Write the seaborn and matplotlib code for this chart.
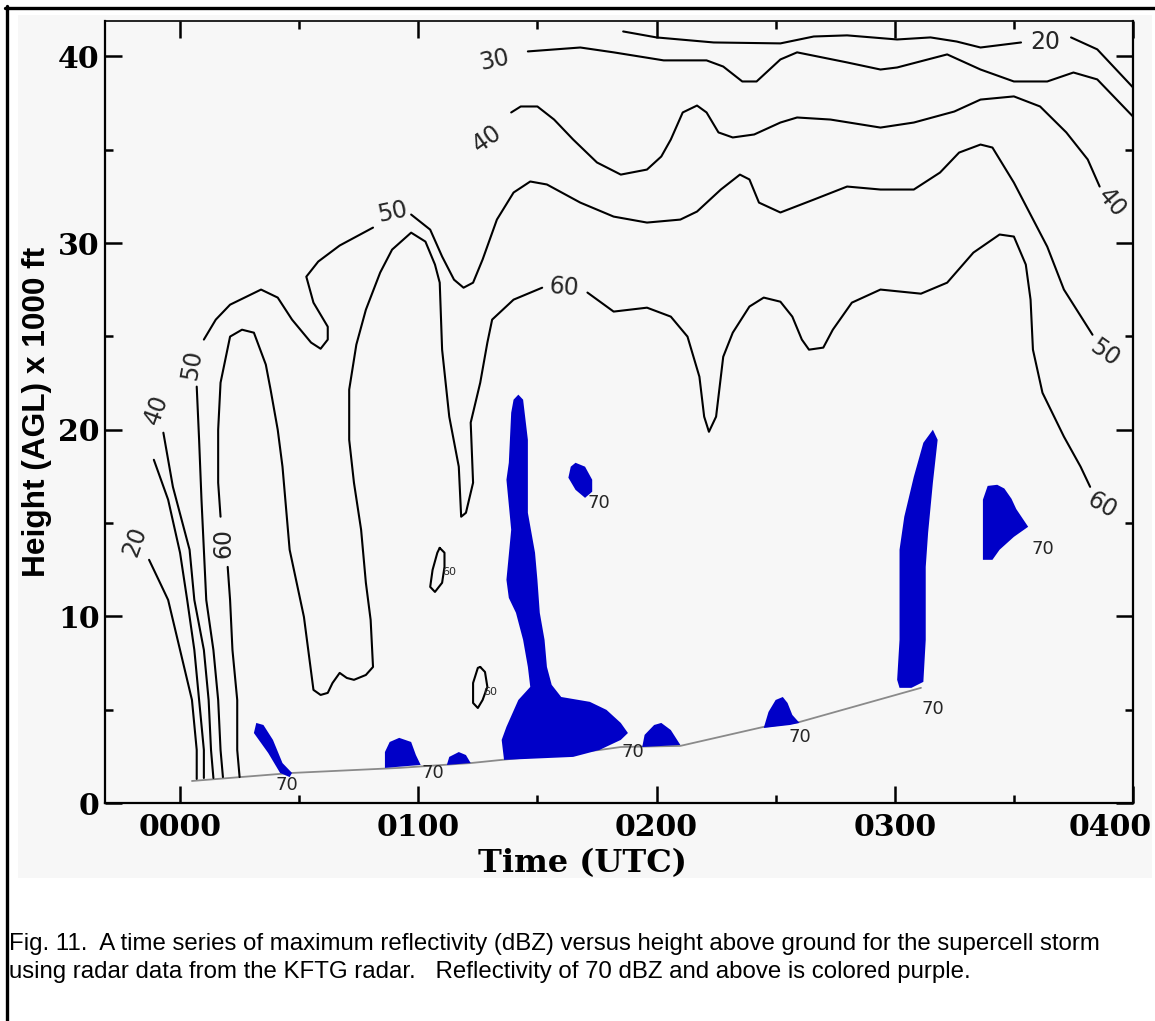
import matplotlib
matplotlib.use("Agg")
import matplotlib.pyplot as plt
import matplotlib.transforms as mtransforms
from matplotlib.lines import Line2D
from matplotlib.patches import Rectangle
from matplotlib.ticker import FixedLocator
import seaborn as sns

# values
# x = hours after 0000 UTC, y = height AGL in thousands of feet

time_ticks = [0, 1, 2, 3, 4]
time_labels = ["0000", "0100", "0200", "0300", "0400"]
time_minor = [0.5, 1.5, 2.5, 3.5]
height_ticks = [0, 10, 20, 30, 40]
height_minor = [5, 15, 25, 35]

ground_line = [(0.05, 1.18), (0.47, 1.61), (0.92, 1.88), (1.22, 2.14), (1.35, 2.31), (1.76, 2.84),
               (1.85, 3.00), (2.10, 3.06), (2.45, 4.08), (2.60, 4.34), (3.11, 6.17)]

# 20 dBZ
dbz20_top_a = [(1.86, 41.34), (2.00, 41.02), (2.24, 40.75), (2.52, 40.70), (2.66, 41.07), (2.80, 41.13),
               (3.01, 40.91), (3.15, 41.02), (3.26, 40.80), (3.36, 40.48), (3.53, 40.75)]
dbz20_top_b = [(3.74, 41.02), (3.85, 40.38), (4.00, 38.34)]
dbz20_left = [(-0.13, 13.03), (-0.08, 11.69), (-0.05, 10.88), (0.00, 8.20), (0.05, 5.52), (0.07, 2.84), (0.07, 1.29)]

# 30 dBZ
dbz30_top = [(1.46, 40.27), (1.68, 40.48), (1.82, 40.22), (2.03, 39.79), (2.21, 39.79), (2.28, 39.46),
             (2.36, 38.66), (2.42, 38.66), (2.52, 39.84), (2.59, 40.22), (2.80, 39.68), (2.94, 39.30),
             (3.01, 39.41), (3.22, 40.11), (3.36, 39.30), (3.50, 38.66), (3.64, 38.66), (3.75, 39.14),
             (3.85, 38.77), (4.00, 36.78)]
dbz30_left = [(-0.11, 18.39), (-0.05, 16.25), (0.00, 13.41), (0.03, 10.88), (0.06, 8.20), (0.08, 5.52),
              (0.10, 2.84), (0.10, 1.34)]

# 40 dBZ
dbz40_top = [(1.39, 37.00), (1.43, 37.32), (1.50, 37.32), (1.57, 36.62), (1.65, 35.55), (1.75, 34.32),
             (1.85, 33.67), (1.96, 33.94), (2.02, 34.64), (2.06, 35.55), (2.11, 37.00), (2.17, 37.37),
             (2.21, 37.00), (2.26, 35.93), (2.32, 35.66), (2.41, 35.82), (2.52, 36.46), (2.59, 36.73),
             (2.73, 36.62), (2.94, 36.19), (3.08, 36.46), (3.25, 37.05), (3.36, 37.69), (3.50, 37.86),
             (3.61, 37.32), (3.72, 35.93), (3.81, 34.48), (3.86, 33.03)]
dbz40_left = [(-0.07, 19.84), (-0.03, 16.94), (0.04, 13.57), (0.06, 10.88), (0.10, 8.20), (0.12, 5.52),
              (0.13, 2.84), (0.14, 1.34)]

# 50 dBZ
dbz50_left = [(0.18, 1.39), (0.17, 2.84), (0.16, 5.52), (0.14, 8.20), (0.11, 10.88), (0.09, 16.25),
              (0.08, 19.46), (0.07, 22.31)]
dbz50_a = [(0.10, 24.83), (0.15, 25.90), (0.21, 26.70), (0.34, 27.51), (0.41, 27.08), (0.47, 25.90),
           (0.55, 24.67), (0.59, 24.34), (0.62, 24.83), (0.62, 25.52), (0.56, 26.81), (0.53, 28.20),
           (0.58, 29.01), (0.67, 29.87), (0.81, 30.83)]
dbz50_b = [(0.97, 31.53), (1.05, 30.72), (1.10, 29.28), (1.15, 28.04), (1.19, 27.61), (1.23, 27.88),
           (1.27, 29.12), (1.33, 31.26), (1.40, 32.71), (1.47, 33.30), (1.54, 33.14), (1.68, 32.17),
           (1.82, 31.42), (1.96, 31.10), (2.10, 31.26), (2.17, 31.69), (2.27, 32.87), (2.35, 33.67),
           (2.39, 33.41), (2.43, 32.17), (2.52, 31.64), (2.66, 32.33), (2.80, 33.03), (2.94, 32.87),
           (3.08, 32.87), (3.19, 33.78), (3.27, 34.85), (3.36, 35.28), (3.41, 35.12), (3.50, 33.24),
           (3.64, 29.81), (3.71, 27.51), (3.83, 25.09)]

# 60 dBZ
dbz60_left = [(0.20, 12.65), (0.21, 10.88), (0.22, 8.20), (0.24, 5.52), (0.24, 2.84), (0.25, 1.39)]
dbz60_a = [(0.17, 15.34), (0.16, 17.16), (0.16, 20.00), (0.17, 22.52), (0.21, 24.99), (0.26, 25.36),
           (0.31, 25.20), (0.36, 23.49), (0.38, 22.15), (0.41, 20.00), (0.43, 18.02), (0.46, 13.57),
           (0.52, 9.97), (0.56, 6.06), (0.59, 5.79), (0.62, 5.90), (0.64, 6.43), (0.67, 6.97),
           (0.70, 6.70), (0.73, 6.60), (0.78, 6.86), (0.81, 7.29), (0.80, 9.81), (0.78, 11.80),
           (0.76, 14.64), (0.73, 17.16), (0.71, 19.46), (0.71, 22.15), (0.74, 24.56), (0.78, 26.43),
           (0.84, 28.42), (0.89, 29.65), (0.97, 30.56), (1.03, 30.08), (1.07, 28.85), (1.09, 27.88),
           (1.10, 24.29), (1.13, 20.70), (1.17, 18.02), (1.18, 15.34), (1.20, 15.55), (1.23, 17.16),
           (1.22, 20.38), (1.26, 22.52), (1.29, 24.67), (1.31, 25.90), (1.40, 26.97), (1.52, 27.61)]
dbz60_b = [(1.71, 27.35), (1.82, 26.33), (1.96, 26.54), (2.06, 26.06), (2.13, 24.99), (2.18, 22.84),
           (2.20, 20.70), (2.22, 19.89), (2.25, 20.70), (2.28, 23.91), (2.32, 25.20), (2.39, 26.60),
           (2.45, 27.08), (2.52, 26.86), (2.57, 26.06), (2.61, 24.83), (2.64, 24.29), (2.70, 24.40),
           (2.74, 25.36), (2.82, 26.81), (2.94, 27.51), (3.11, 27.29), (3.22, 27.88), (3.33, 29.49),
           (3.44, 30.46), (3.50, 30.35), (3.55, 28.85), (3.57, 26.97), (3.58, 24.29), (3.62, 21.98),
           (3.71, 19.63), (3.78, 18.02), (3.82, 16.94)]
loop60_a = [(1.09, 13.67), (1.11, 13.41), (1.11, 12.65), (1.10, 11.80), (1.07, 11.31), (1.05, 11.58),
            (1.06, 12.49), (1.08, 13.41), (1.09, 13.67)]
loop60_b = [(1.26, 7.29), (1.28, 7.02), (1.29, 6.22), (1.27, 5.52), (1.25, 5.09), (1.23, 5.36),
            (1.23, 6.43), (1.25, 7.24), (1.26, 7.29)]

# 70 dBZ and above (filled)
core_0020 = [(0.32, 4.29), (0.35, 4.18), (0.39, 3.38), (0.43, 2.14), (0.47, 1.61), (0.46, 1.39),
             (0.42, 1.61), (0.37, 2.68), (0.31, 3.75)]
core_0055 = [(0.86, 1.88), (0.86, 2.73), (0.88, 3.27), (0.92, 3.49), (0.97, 3.27), (0.99, 2.57), (1.01, 2.04)]
core_0110 = [(1.12, 2.04), (1.13, 2.47), (1.17, 2.73), (1.20, 2.57), (1.22, 2.14)]
core_0125 = [(1.42, 21.88), (1.44, 21.61), (1.46, 19.46), (1.46, 15.55), (1.49, 13.41), (1.50, 11.96),
             (1.51, 10.19), (1.53, 8.74), (1.54, 7.29), (1.56, 6.33), (1.60, 5.68), (1.72, 5.42),
             (1.79, 4.99), (1.85, 4.29), (1.88, 3.75), (1.85, 3.38), (1.76, 2.84), (1.65, 2.47),
             (1.36, 2.31), (1.35, 3.38), (1.37, 4.08), (1.42, 5.52), (1.47, 6.22), (1.46, 7.29),
             (1.44, 8.74), (1.41, 10.19), (1.38, 10.99), (1.37, 11.96), (1.39, 14.64), (1.37, 17.32),
             (1.38, 18.23), (1.39, 20.91), (1.40, 21.61)]
core_0140 = [(1.66, 18.23), (1.70, 18.02), (1.73, 17.32), (1.73, 16.68), (1.70, 16.35), (1.66, 16.78),
             (1.63, 17.43), (1.64, 18.02)]
core_0200 = [(1.94, 3.00), (1.95, 3.65), (1.99, 4.18), (2.02, 4.29), (2.06, 3.91), (2.10, 3.11)]
core_0230 = [(2.45, 4.02), (2.47, 4.88), (2.50, 5.52), (2.53, 5.68), (2.55, 5.36), (2.57, 4.72),
             (2.60, 4.29), (2.56, 4.18)]
core_0305 = [(3.16, 20.00), (3.18, 19.46), (3.16, 17.16), (3.14, 14.48), (3.13, 12.65), (3.13, 10.88),
             (3.13, 8.74), (3.12, 6.49), (3.07, 6.17), (3.02, 6.17), (3.01, 6.60), (3.02, 8.74),
             (3.02, 10.88), (3.02, 13.57), (3.04, 15.34), (3.08, 17.48), (3.12, 19.30)]
core_0325 = [(3.39, 16.99), (3.43, 17.05), (3.46, 16.85), (3.49, 16.30), (3.51, 15.75), (3.56, 14.80),
             (3.50, 14.26), (3.44, 13.57), (3.41, 13.03), (3.37, 13.03), (3.37, 15.01), (3.37, 16.25)]

# contour labels: text, time, height, rotation
big_labels = [("20", 3.63, 40.75, 0), ("30", 1.32, 39.79, 12), ("40", 1.29, 35.59, 35),
              ("50", 0.89, 31.64, 12), ("60", 1.61, 27.61, -5), ("40", 3.91, 32.16, -50),
              ("50", 3.88, 24.12, -35), ("60", 3.87, 15.97, -30), ("20", -0.19, 14.0, 70),
              ("40", -0.10, 21.07, 70), ("50", 0.05, 23.49, 80), ("60", 0.18, 13.94, 90)]
labels_70 = [(0.45, 0.96), (1.06, 1.61), (1.90, 2.73), (1.76, 16.08), (2.60, 3.54), (3.16, 5.04), (3.62, 13.62)]
small_60 = [(1.13, 12.38), (1.30, 5.95)]

caption = ["Fig. 11.  A time series of maximum reflectivity (dBZ) versus height above ground for the supercell storm",
           "using radar data from the KFTG radar.   Reflectivity of 70 dBZ and above is colored purple."]

PURPLE = "#0000c8"
PAPER = "#f7f7f7"

sns.set_theme(style="ticks")
plt.rcParams["font.family"] = ["DejaVu Serif"]
plt.rcParams["font.weight"] = "bold"

W, H = 1155, 1021
fig = plt.figure(figsize=(W / 100, H / 100), dpi=100, facecolor="white")
fig.add_artist(Rectangle((18 / W, 1 - 878 / H), 1134 / W, 863 / H, transform=fig.transFigure,
                         facecolor=PAPER, edgecolor="none", zorder=-5))
fig.add_artist(Line2D([6.5 / W, 6.5 / W], [0, 1 - 6 / H], color="black", lw=2.4))
fig.add_artist(Line2D([5 / W, 1], [1 - 8.5 / H, 1 - 8.5 / H], color="black", lw=2.4))

ax = fig.add_axes([105 / W, 1 - 803 / H, 1028 / W, 782 / H])
ax.set_facecolor(PAPER)


def trace(points, color="black", lw=1.5):
    t, h = zip(*points)
    sns.lineplot(x=list(t), y=list(h), sort=False, estimator=None, ax=ax, legend=False,
                 color=color, linewidth=lw, zorder=2, solid_joinstyle="round", solid_capstyle="round")


trace(ground_line, color="#8a8a8a", lw=1.3)
for line in [dbz20_top_a, dbz20_top_b, dbz20_left, dbz30_top, dbz30_left, dbz40_top, dbz40_left,
             dbz50_left, dbz50_a, dbz50_b, dbz60_left, dbz60_a, dbz60_b, loop60_a, loop60_b]:
    trace(line)

for core in [core_0020, core_0055, core_0110, core_0125, core_0140, core_0200, core_0230, core_0305, core_0325]:
    t, h = zip(*core)
    ax.fill(t, h, color=PURPLE, lw=0, zorder=3)

for text, t, h, rot in big_labels:
    ax.text(t, h, text, rotation=rot, ha="center", va="center", fontsize=17,
            fontfamily="DejaVu Sans", fontweight="normal", zorder=4)
for t, h in labels_70:
    ax.text(t, h, "70", ha="center", va="center", fontsize=13,
            fontfamily="DejaVu Sans", fontweight="normal", zorder=4)
for t, h in small_60:
    ax.text(t, h, "60", ha="center", va="center", fontsize=8,
            fontfamily="DejaVu Sans", fontweight="normal", zorder=4)

ax.set_xlim(-0.315, 4.0)
ax.set_ylim(0, 41.9)
ax.xaxis.set_major_locator(FixedLocator(time_ticks))
ax.xaxis.set_minor_locator(FixedLocator(time_minor))
ax.yaxis.set_major_locator(FixedLocator(height_ticks))
ax.yaxis.set_minor_locator(FixedLocator(height_minor))
ax.set_xticklabels(time_labels)
ax.set_yticklabels([str(v) for v in height_ticks])

for side in ["left", "right", "top", "bottom"]:
    ax.spines[side].set_visible(True)
    ax.spines[side].set_color("black")
    ax.spines[side].set_linewidth(1.6)
ax.spines["top"].set_linewidth(1.2)

ax.tick_params(which="both", direction="in", top=True, right=True, color="black", width=1.8)
ax.tick_params(which="major", length=12.5, labelsize=21.5, labelcolor="black")
ax.tick_params(which="minor", length=6)
ax.tick_params(axis="x", which="major", pad=7)
ax.tick_params(axis="y", which="major", pad=4)

# the 0400 label sits left of its tick so that it stays on the page
last = ax.xaxis.get_major_ticks()[-1].label1
last.set_transform(last.get_transform() + mtransforms.ScaledTranslation(-0.23, 0, fig.dpi_scale_trans))

ax.set_xlabel("Time (UTC)", fontsize=23, fontfamily="DejaVu Serif", fontweight="bold", color="black")
ax.xaxis.set_label_coords(0.464, -0.058)
ax.set_ylabel("Height (AGL) x 1000 ft", fontsize=22.8, fontfamily="Liberation Sans", fontweight="bold", color="black")
ax.yaxis.set_label_coords(-0.0516, 0.5)

fig.text(9 / W, 1 - 944 / H, caption[0], fontsize=17.3, fontfamily="Liberation Sans", fontweight="normal",
         ha="left", va="center", color="black")
fig.text(9 / W, 1 - 972 / H, caption[1], fontsize=17.3, fontfamily="Liberation Sans", fontweight="normal",
         ha="left", va="center", color="black")

fig.savefig("out.png", dpi=100, facecolor="white")
